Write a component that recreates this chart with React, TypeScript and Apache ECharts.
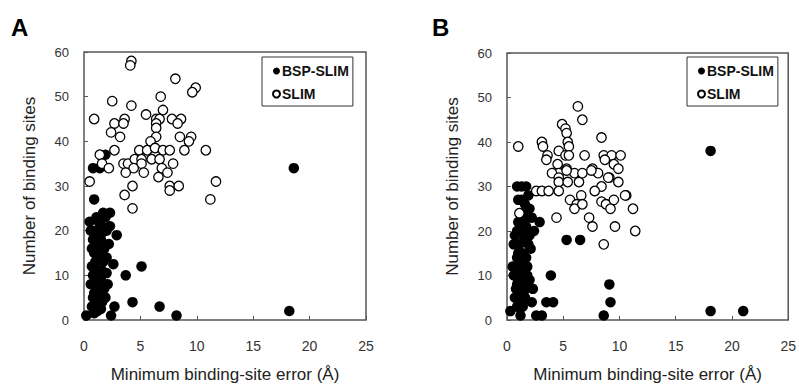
import React, { useEffect, useRef } from "react";
import * as echarts from "echarts";

const FONT = 'Arial, "Liberation Sans", Helvetica, sans-serif';

const xTicks = [0, 5, 10, 15, 20, 25];
const yTicks = [0, 10, 20, 30, 40, 50, 60];
const seriesNames = ["BSP-SLIM", "SLIM"];
const panelLabels = ["A", "B"];
const xTitle = "Minimum binding-site error (Å)";
const yTitle = "Number of binding sites";

// Panel A
const aBsp: number[][] = [
  [0.2, 1], [2.4, 1], [2.7, 3], [4.3, 4], [6.7, 3], [8.2, 1], [18.2, 2], [18.6, 34],
  [0.8, 34], [1.4, 34], [1.9, 37], [0.9, 27],
  [2.3, 24], [1.9, 23], [0.5, 22], [1.3, 22], [1.6, 21], [1.0, 20], [2.0, 20], [1.2, 19],
  [2.9, 19], [0.8, 18], [1.5, 18], [1.1, 17], [1.8, 16], [0.9, 15], [1.4, 15], [1.2, 14],
  [1.7, 13], [2.6, 12.5], [5.1, 12], [0.9, 12], [1.3, 11], [2.0, 10.5], [0.8, 10], [3.7, 10],
  [1.5, 9], [1.1, 8], [1.8, 7], [0.9, 6], [1.3, 5], [1.0, 4], [1.6, 4], [0.7, 3], [1.2, 2], [1.5, 2.5],
  [0.6, 20], [1.1, 23], [1.7, 24], [0.7, 16], [1.3, 16], [2.2, 17], [1.0, 13], [1.6, 11],
  [0.6, 8], [1.2, 9.5], [2.1, 8], [0.8, 5], [1.4, 6.5], [1.9, 5], [1.2, 3.5], [0.9, 1.5],
  [1.6, 19.5], [2.3, 21], [0.7, 12], [2.0, 14],
];
const aSlim: number[][] = [
  [4.2, 58], [4.1, 57], [8.1, 54], [9.9, 52], [9.6, 51], [6.8, 50], [2.5, 49], [4.2, 48],
  [7.0, 47], [5.5, 46], [0.9, 45], [3.6, 45], [6.4, 45], [6.7, 45], [7.8, 45], [8.6, 45],
  [2.7, 44], [3.5, 44], [6.4, 44], [8.3, 44], [6.4, 43], [2.4, 42], [3.2, 41], [6.4, 41],
  [8.5, 41], [9.5, 41], [5.9, 40], [9.3, 40], [10.8, 38], [2.7, 38], [4.9, 38], [5.6, 38],
  [6.3, 38.5], [7.0, 38], [7.6, 38], [8.9, 38], [1.4, 37], [1.6, 35], [2.2, 34], [3.5, 35],
  [3.9, 35], [4.5, 36], [5.1, 36], [5.1, 35], [6.0, 36], [6.7, 36], [4.4, 34], [5.3, 33],
  [6.9, 34], [7.4, 33], [7.9, 35], [3.7, 33], [0.5, 31], [6.6, 32], [11.7, 31], [4.3, 30],
  [7.6, 30], [7.6, 29], [8.4, 30], [3.6, 28], [11.2, 27], [4.3, 25],
];

// Panel B
const bBsp: number[][] = [
  [0.3, 2], [0.9, 3], [1.4, 4], [1.2, 1], [2.6, 1], [3.1, 1], [3.5, 4], [4.1, 4], [9.2, 4],
  [8.6, 1], [18.1, 2], [21.0, 2], [18.1, 38], [3.9, 10], [9.1, 8], [5.3, 18], [6.5, 18],
  [0.9, 30], [1.3, 30], [1.7, 30], [1.0, 27], [1.6, 26], [2.0, 25], [1.4, 24], [2.2, 23],
  [2.9, 22], [1.0, 22], [1.7, 21], [1.3, 20], [0.7, 19], [2.0, 19], [1.5, 18], [1.1, 17],
  [2.1, 16], [1.4, 15], [0.9, 14], [1.7, 14], [1.2, 13], [0.8, 12], [1.5, 12], [1.1, 11],
  [1.8, 10], [1.0, 9], [1.4, 8], [2.3, 7], [0.8, 7], [1.2, 6], [1.6, 5], [0.7, 5], [1.1, 3],
  [0.6, 17], [1.8, 23], [2.4, 20], [1.2, 22], [0.9, 20], [1.9, 17], [1.0, 15], [1.8, 12],
  [0.6, 10], [1.3, 10], [2.0, 9], [0.9, 8], [1.7, 7], [1.4, 3], [2.2, 4], [0.5, 12],
  [1.3, 27], [1.9, 28],
];
const bSlim: number[][] = [
  [6.3, 48], [6.7, 45], [4.9, 44], [5.2, 43], [5.3, 42], [8.4, 41], [1.0, 39], [3.1, 40],
  [3.2, 39], [5.4, 40], [5.5, 39], [3.6, 37], [3.5, 36], [4.6, 38], [5.2, 37], [5.5, 37],
  [6.9, 37], [8.6, 37], [9.3, 37], [10.1, 37], [8.7, 36], [9.5, 35], [9.9, 34], [4.5, 35],
  [5.3, 34], [4.6, 33], [4.0, 33], [7.6, 34], [8.1, 33], [6.0, 33], [6.4, 31], [6.7, 33],
  [9.1, 32], [9.9, 31], [4.6, 32], [4.6, 31], [5.4, 31], [8.4, 30], [7.8, 29], [2.6, 29],
  [3.1, 29], [3.7, 29], [4.6, 29], [6.6, 28], [10.6, 28], [5.6, 27], [6.2, 26], [6.0, 25],
  [6.7, 26], [8.4, 26.6], [8.8, 26], [9.2, 25], [9.5, 27], [10.5, 28], [11.2, 25], [7.3, 23],
  [4.4, 23], [7.6, 21], [9.6, 21], [11.4, 20], [8.6, 17], [1.1, 24], [5.3, 33.6], [7.5, 33.6],
  [9.0, 32],
];

const grids = [
  { left: 84, top: 52, width: 282, height: 274 },
  { left: 507, top: 53, width: 283, height: 273 },
];
const legendPos = [
  { left: 262, top: 57 },
  { left: 687, top: 57 },
];
const panelData = [
  [aBsp, aSlim],
  [bBsp, bSlim],
];

export default function App() {
  const ref = useRef<HTMLDivElement>(null);
  useEffect(() => {
    if (!ref.current) return;
    const chart = echarts.init(ref.current, undefined, { renderer: "svg" });
    const xAxis: any[] = [];
    const yAxis: any[] = [];
    const series: any[] = [];
    const legend: any[] = [];
    const title: any[] = [];
    grids.forEach((g, i) => {
      xAxis.push({
        gridIndex: i,
        type: "value",
        min: xTicks[0],
        max: xTicks[xTicks.length - 1],
        interval: 5,
        name: xTitle,
        nameLocation: "middle",
        nameGap: 46,
        nameTextStyle: { fontFamily: FONT, fontSize: 17, color: "#222" },
        axisLine: { show: false },
        axisTick: { show: true, inside: true, length: 4, lineStyle: { color: "#555" } },
        axisLabel: { fontFamily: FONT, fontSize: 14, color: "#333", margin: 19 },
        splitLine: { show: false },
      });
      yAxis.push({
        gridIndex: i,
        type: "value",
        min: yTicks[0],
        max: yTicks[yTicks.length - 1],
        interval: 10,
        name: yTitle,
        nameLocation: "middle",
        nameGap: 46,
        nameTextStyle: { fontFamily: FONT, fontSize: 17, color: "#222" },
        axisLine: { show: false },
        axisTick: { show: true, inside: true, length: 4, lineStyle: { color: "#555" } },
        axisLabel: { fontFamily: FONT, fontSize: 13, color: "#333", margin: 15 },
        splitLine: { show: false },
      });
      series.push({
        name: seriesNames[0],
        type: "scatter",
        xAxisIndex: i,
        yAxisIndex: i,
        data: panelData[i][0],
        symbol: "circle",
        symbolSize: 10.5,
        itemStyle: { color: "#000", opacity: 1 },
      });
      series.push({
        name: seriesNames[1],
        type: "scatter",
        xAxisIndex: i,
        yAxisIndex: i,
        data: panelData[i][1],
        symbol: "circle",
        symbolSize: 9.5,
        itemStyle: { color: "#fff", borderColor: "#000", borderWidth: 1.3, opacity: 1 },
      });
      legend.push({
        left: legendPos[i].left,
        top: legendPos[i].top,
        orient: "vertical",
        data: seriesNames.map((n) => ({ name: n, icon: "circle" })),
        itemWidth: 7,
        itemHeight: 7,
        itemGap: 9,
        padding: [7, 4, 5, 10],
        borderColor: "#333",
        borderWidth: 1,
        selectedMode: false,
        textStyle: { fontFamily: FONT, fontSize: 14, fontWeight: "bold", color: "#111", padding: [0, 0, 0, -3] },
      });
      title.push({
        text: panelLabels[i],
        left: i === 0 ? 11 : 432,
        top: 15,
        textStyle: { fontFamily: FONT, fontSize: 24, fontWeight: "bold", color: "#000" },
        padding: 0,
      });
    });
    chart.setOption({
      animation: false,
      backgroundColor: "#fff",
      title,
      grid: grids.map((g) => ({ ...g, show: true, borderColor: "#555", borderWidth: 1.5, backgroundColor: "transparent" })),
      xAxis,
      yAxis,
      legend,
      series,
    });
    return () => chart.dispose();
  }, []);
  return (
    <div
      ref={ref}
      style={{ position: "fixed", left: 0, top: 0, width: 799, height: 388, background: "#fff" }}
    />
  );
}
